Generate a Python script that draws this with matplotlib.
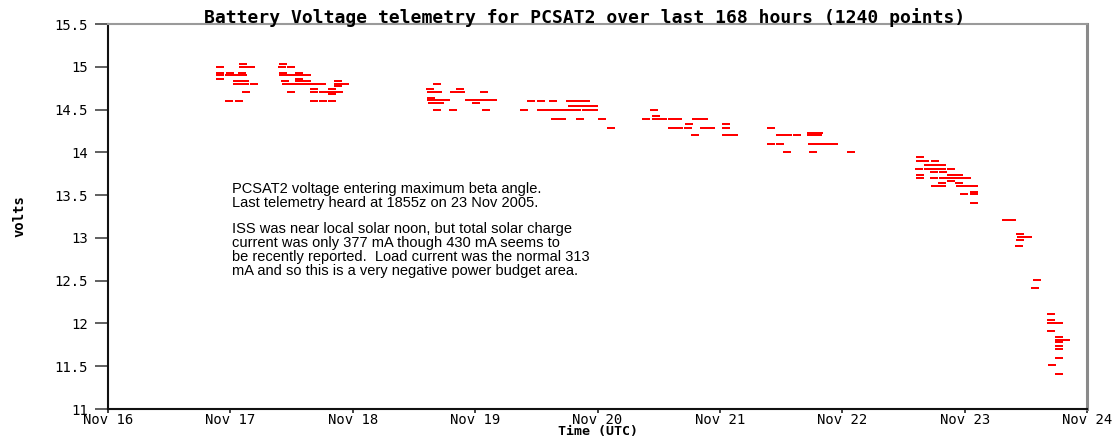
import matplotlib
matplotlib.use('Agg')
import matplotlib.pyplot as plt
from matplotlib.path import Path

# day-of-month (UTC, fractional) and battery volts, grouped by pass
pass1_days = [17.107, 16.919, 17.103, 17.168, 16.919, 16.997, 17.099, 16.919, 16.989, 17.058,
              17.107, 16.919, 17.054, 17.119, 17.054, 17.119, 17.193, 17.127, 16.989, 17.070]
pass1_volts = [15.03, 15.0, 15.0, 15.0, 14.93, 14.93, 14.93, 14.9, 14.9, 14.9,
               14.9, 14.86, 14.83, 14.83, 14.8, 14.8, 14.8, 14.71, 14.6, 14.6]

pass2_days = [17.430, 17.422, 17.495, 17.434, 17.560, 17.434, 17.495, 17.560, 17.626, 17.560,
              17.450, 17.560, 17.626, 17.879, 17.454, 17.507, 17.560, 17.626, 17.687, 17.748,
              17.879, 17.940, 17.879, 17.687, 17.830, 17.495, 17.687, 17.757, 17.822, 17.887,
              17.830, 17.687, 17.757, 17.830]
pass2_volts = [15.03, 15.0, 15.0, 14.93, 14.93, 14.9, 14.9, 14.9, 14.9, 14.86,
               14.83, 14.83, 14.83, 14.83, 14.8, 14.8, 14.8, 14.8, 14.8, 14.8,
               14.8, 14.8, 14.77, 14.74, 14.74, 14.71, 14.71, 14.71, 14.71, 14.71,
               14.68, 14.6, 14.6, 14.6]

pass3_days = [18.692, 18.635, 18.880, 18.639, 18.696, 18.827, 18.884, 19.076, 18.643, 18.643,
              18.704, 18.766, 18.949, 19.015, 19.080, 19.145, 18.647, 18.712, 19.007, 18.692,
              18.823, 19.088]
pass3_volts = [14.8, 14.74, 14.74, 14.71, 14.71, 14.71, 14.71, 14.71, 14.64, 14.61,
               14.61, 14.61, 14.61, 14.61, 14.61, 14.61, 14.58, 14.58, 14.58, 14.5,
               14.5, 14.5]

pass4_days = [19.456, 19.538, 19.636, 19.775, 19.840, 19.905, 19.791, 19.840, 19.909, 19.971,
              19.399, 19.538, 19.587, 19.652, 19.721, 19.779, 19.836, 19.909, 19.971, 19.656,
              19.713, 19.856, 20.036, 20.109]
pass4_volts = [14.6, 14.6, 14.6, 14.6, 14.6, 14.6, 14.54, 14.54, 14.54, 14.54,
               14.5, 14.5, 14.5, 14.5, 14.5, 14.5, 14.5, 14.5, 14.5, 14.39,
               14.39, 14.39, 14.39, 14.29]

pass5_days = [20.465, 20.477, 20.395, 20.477, 20.534, 20.608, 20.657, 20.804, 20.869, 20.747,
              21.053, 20.612, 20.669, 20.739, 20.869, 20.926, 21.053, 20.796, 21.053, 21.118]
pass5_volts = [14.5, 14.43, 14.39, 14.39, 14.39, 14.39, 14.39, 14.39, 14.39, 14.33,
               14.33, 14.29, 14.29, 14.29, 14.29, 14.29, 14.29, 14.2, 14.2, 14.2]

pass6_days = [21.417, 21.743, 21.809, 21.490, 21.556, 21.629, 21.748, 21.805, 21.417, 21.490,
              21.752, 21.809, 21.866, 21.931, 21.547, 21.760, 22.070]
pass6_volts = [14.29, 14.23, 14.23, 14.2, 14.2, 14.2, 14.2, 14.2, 14.1, 14.1,
               14.1, 14.1, 14.1, 14.1, 14.0, 14.0, 14.0]

pass7_days = [22.634, 22.634, 22.675, 22.761, 22.703, 22.761, 22.818, 22.626, 22.703, 22.761,
              22.818, 22.887, 22.748, 22.826, 22.634, 22.887, 22.957, 22.634, 22.748, 22.826,
              22.887, 22.957, 23.018, 22.887, 22.818, 22.957, 22.757, 22.814, 22.965, 23.018,
              23.079, 23.079, 22.998, 23.079, 23.079]
pass7_volts = [13.95, 13.9, 13.9, 13.9, 13.85, 13.85, 13.85, 13.81, 13.81, 13.81,
               13.81, 13.81, 13.77, 13.77, 13.74, 13.74, 13.74, 13.7, 13.7, 13.7,
               13.7, 13.7, 13.7, 13.66, 13.64, 13.64, 13.61, 13.61, 13.61, 13.61,
               13.61, 13.54, 13.51, 13.51, 13.41]

pass8_days = [23.337, 23.386, 23.455, 23.459, 23.516, 23.455, 23.447, 23.590, 23.574, 23.704,
              23.704, 23.704, 23.770, 23.704, 23.770, 23.770, 23.827, 23.770, 23.770, 23.770,
              23.770, 23.712, 23.770]
pass8_volts = [13.21, 13.21, 13.04, 13.01, 13.01, 12.97, 12.9, 12.51, 12.41, 12.11,
               12.04, 12.01, 12.01, 11.91, 11.84, 11.81, 11.81, 11.78, 11.74, 11.7,
               11.6, 11.51, 11.41]

all_days = pass1_days + pass2_days + pass3_days + pass4_days + pass5_days + pass6_days + pass7_days + pass8_days
all_volts = pass1_volts + pass2_volts + pass3_volts + pass4_volts + pass5_volts + pass6_volts + pass7_volts + pass8_volts

day_ticks = [16, 17, 18, 19, 20, 21, 22, 23, 24]
day_labels = ['Nov %d' % d for d in day_ticks]
volt_ticks = [11, 11.5, 12, 12.5, 13, 13.5, 14, 14.5, 15, 15.5]

title = 'Battery Voltage telemetry for PCSAT2 over last 168 hours (1240 points)'
note_top = ('PCSAT2 voltage entering maximum beta angle.\n'
            'Last telemetry heard at 1855z on 23 Nov 2005.')
note_bottom = ('ISS was near local solar noon, but total solar charge\n'
               'current was only 377 mA though 430 mA seems to\n'
               'be recently reported.  Load current was the normal 313\n'
               'mA and so this is a very negative power budget area.')

mono = 'DejaVu Sans Mono'

fig = plt.figure(figsize=(11.17, 4.40), dpi=100)
ax = fig.add_axes([108 / 1117, 31 / 440, 979 / 1117, 385 / 440])

# short flat dash marker
dash = Path([(-1, -0.4), (1, -0.4), (1, 0.4), (-1, 0.4), (-1, -0.4)],
            [Path.MOVETO, Path.LINETO, Path.LINETO, Path.LINETO, Path.CLOSEPOLY])
ax.plot(all_days, all_volts, linestyle='none', marker=dash, markersize=5.2,
        markerfacecolor='#ff0000', markeredgewidth=0)

ax.set_xlim(16, 24)
ax.set_ylim(11, 15.5)
ax.set_xticks(day_ticks)
ax.set_xticklabels(day_labels, family=mono, fontsize=10)
ax.set_yticks(volt_ticks)
ax.set_yticklabels(['%g' % v for v in volt_ticks], family=mono, fontsize=10)
ax.tick_params(axis='y', length=9.5, width=1.2, color='#444444', pad=5)
ax.tick_params(axis='x', length=3.2, width=1.2, color='#222222', pad=0)

for s in ['left', 'bottom']:
    ax.spines[s].set_color('#111111')
    ax.spines[s].set_linewidth(1.5)
ax.spines['top'].set_color('#9a9a9a')
ax.spines['top'].set_linewidth(1.5)
ax.spines['right'].set_color('#8a8a8a')
ax.spines['right'].set_linewidth(2.2)

ax.set_xlabel('Time (UTC)', family=mono, fontweight='bold', fontsize=9.5, labelpad=-1.5)
ax.set_ylabel('volts', family=mono, fontweight='bold', fontsize=10, labelpad=20)
ax.text(0.487, 1.018, title, transform=ax.transAxes, family=mono, fontweight='bold',
        fontsize=13, ha='center', va='center')

ax.text(0.1267, 0.590, note_top, transform=ax.transAxes, family='Liberation Sans',
        fontsize=10.5, ha='left', va='top', linespacing=1.0)
ax.text(0.1267, 0.486, note_bottom, transform=ax.transAxes, family='Liberation Sans',
        fontsize=10.5, ha='left', va='top', linespacing=1.0)

fig.savefig('out.png', dpi=100)
